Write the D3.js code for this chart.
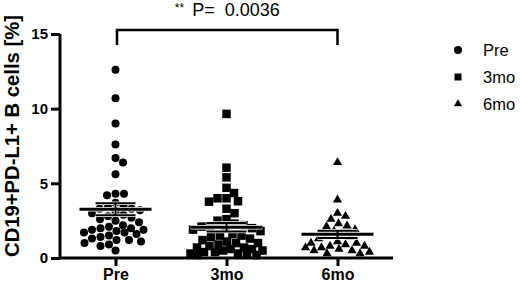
<!DOCTYPE html>
<html>
<head>
<meta charset="utf-8">
<script src="https://cdn.jsdelivr.net/npm/d3@7"></script>
<style>
  body { margin: 0; background: #fff; }
  svg { display: block; font-family: "Liberation Sans", Arial, sans-serif; }
</style>
</head>
<body>
<svg id="chart" width="520" height="283"></svg>
<script>
// groups and values (% CD19+PD-L1+ B cells)
var groups = ["Pre", "3mo", "6mo"];
var shapes = ["circle", "square", "triangle"];
var yTicks = [0, 5, 10, 15];

var preVals = [12.6, 10.7, 9.0, 7.6, 6.7, 6.4, 5.6, 4.3, 4.2, 4.3, 3.7, 3.5, 3.4, 3.3, 3.3,
  3.2, 3.1, 3.0, 2.9, 2.8, 2.7, 2.6, 2.5, 2.4, 2.2, 2.1, 2.0, 2.0, 1.9, 1.9, 1.8, 1.7,
  1.7, 1.6, 1.5, 1.4, 1.3, 1.2, 1.2, 1.1, 1.0, 0.9, 0.8, 0.5];
var mo3Vals = [9.65, 6.05, 5.4, 4.7, 4.35, 4.0, 4.0, 3.8, 3.77, 3.3, 3.0, 2.6, 2.5, 2.3,
  2.2, 2.1, 2.1, 2.0, 2.0, 1.9, 1.8, 1.6, 1.5, 1.5, 1.4, 1.3, 1.2, 1.1, 1.0, 1.0, 0.9,
  0.8, 0.7, 0.7, 0.6, 0.6, 0.5, 0.5, 0.4, 0.4, 0.3, 0.3, 0.3, 0.2, 0.2];
var mo6Vals = [6.4, 3.9, 3.0, 2.8, 2.6, 2.3, 2.15, 2.1, 1.9, 1.8, 1.6, 1.5, 1.4, 1.3,
  1.1, 1.0, 1.0, 0.9, 0.8, 0.8, 0.7, 0.7, 0.6, 0.5, 0.5, 0.4, 0.3, 0.3];

var pLabel = "P=\u00a0 0.0036";
var stars = "**";

var allVals = [preVals, mo3Vals, mo6Vals];

var svg = d3.select("#chart");

var x = d3.scalePoint().domain(groups).range([60, 393]).padding(0.5);
var y = d3.scaleLinear().domain([0, 15]).range([258, 34]);

// axes
var yAxis = svg.append("g")
  .attr("transform", "translate(60,0)")
  .call(d3.axisLeft(y).tickValues(yTicks).tickSize(9).tickPadding(3));
var xAxis = svg.append("g")
  .attr("transform", "translate(0,258)")
  .call(d3.axisBottom(x).tickSize(8).tickPadding(3));

[yAxis, xAxis].forEach(function(g) {
  g.select(".domain").attr("stroke", "#000").attr("stroke-width", 3);
  g.selectAll(".tick line").attr("stroke", "#000").attr("stroke-width", 3);
  g.selectAll(".tick text").attr("fill", "#000").attr("font-weight", "bold");
});
yAxis.select(".domain").attr("d", "M0," + y(0) + "V" + y(15));
xAxis.select(".domain").attr("d", "M60,0H393");
yAxis.selectAll(".tick text").attr("font-size", 15);
xAxis.selectAll(".tick text").attr("font-size", 16);

svg.append("text")
  .attr("transform", "translate(19,136) rotate(-90)")
  .attr("text-anchor", "middle")
  .attr("font-size", 21)
  .attr("font-weight", "bold")
  .attr("textLength", 242)
  .attr("lengthAdjust", "spacingAndGlyphs")
  .text("CD19+PD-L1+ B cells [%]");

// symbol paths
function marker(shape, s) {
  if (shape === "circle") return d3.symbol(d3.symbolCircle, s * s * Math.PI / 4)();
  if (shape === "square") return d3.symbol(d3.symbolSquare, s * s)();
  return d3.symbol(d3.symbolTriangle, s * s * 0.45)();
}

// beeswarm: closest free horizontal offset within maxOff; if none is free,
// take the offset that keeps the most room to its neighbours
function swarm(vals, cx, d, maxOff) {
  var placed = [];
  vals.slice().sort(function(a, b) { return b - a; }).forEach(function(v) {
    var py = y(v);
    var best = 0, bestGap = -1, found = false;
    for (var k = 0; k <= maxOff * 4; k++) {
      var o = (k % 2 ? 1 : -1) * Math.ceil(k / 2) * 0.5;
      var gap = d3.min(placed, function(p) {
        var dx = p.x - (cx + o), dy = p.y - py;
        return Math.sqrt(dx * dx + dy * dy);
      });
      if (gap === undefined || gap >= d) { best = o; found = true; break; }
      if (gap > bestGap + 0.01) { bestGap = gap; best = o; }
    }
    placed.push({x: cx + best, y: py, v: v});
  });
  return placed;
}

var sizes = [8, 8.5, 9];
var spacing = [8.5, 9, 8.5];
var spread = [34, 36, 32];

groups.forEach(function(g, i) {
  var cx = x(g);
  var pts = swarm(allVals[i], cx, spacing[i], spread[i]);
  svg.append("g").selectAll("path")
    .data(pts)
    .join("path")
    .attr("transform", function(p) { return "translate(" + p.x + "," + p.y + ")"; })
    .attr("d", marker(shapes[i], sizes[i]))
    .attr("fill", "#000");

  // mean and SEM
  var m = d3.mean(allVals[i]);
  var sem = d3.deviation(allVals[i]) / Math.sqrt(allVals[i].length);
  var eg = svg.append("g").attr("stroke-linecap", "butt");
  var lines = [
    {x1: cx, x2: cx, y1: y(m + sem), y2: y(m - sem), w: 2},
    {x1: cx - 20, x2: cx + 20, y1: y(m + sem), y2: y(m + sem), w: 2},
    {x1: cx - 20, x2: cx + 20, y1: y(m - sem), y2: y(m - sem), w: 2},
    {x1: cx - 36, x2: cx + 36, y1: y(m), y2: y(m), w: 3}
  ];
  eg.selectAll("line.halo").data(lines).join("line")
    .attr("class", "halo")
    .attr("x1", d => d.x1).attr("x2", d => d.x2)
    .attr("y1", d => d.y1).attr("y2", d => d.y2)
    .attr("stroke", "#fff").attr("stroke-width", d => d.w + 1.5);
  eg.selectAll("line.bar").data(lines).join("line")
    .attr("class", "bar")
    .attr("x1", d => d.x1).attr("x2", d => d.x2)
    .attr("y1", d => d.y1).attr("y2", d => d.y2)
    .attr("stroke", "#000").attr("stroke-width", d => d.w);
});

// significance bracket
var bx1 = x("Pre") + 1.5, bx2 = x("6mo");
svg.append("path")
  .attr("d", "M" + bx1 + ",45V30H" + bx2 + "V45")
  .attr("fill", "none").attr("stroke", "#000").attr("stroke-width", 2.5);

var t = svg.append("text")
  .attr("x", (bx1 + bx2) / 2)
  .attr("y", 16)
  .attr("text-anchor", "middle")
  .attr("font-size", 18)
  .attr("fill", "#000");
t.append("tspan").attr("font-size", 12).attr("dy", -4).text(stars);
t.append("tspan").attr("dy", 4).attr("dx", 8).text(pLabel);

// legend
var legend = svg.append("g").attr("transform", "translate(458,50)");
groups.forEach(function(g, i) {
  var row = legend.append("g").attr("transform", "translate(0," + (i * 27) + ")");
  row.append("path").attr("d", marker(shapes[i], [8, 7, 8][i])).attr("fill", "#000");
  row.append("text").attr("x", 25).attr("y", 6).attr("font-size", 16.5).text(g);
});
</script>
</body>
</html>
